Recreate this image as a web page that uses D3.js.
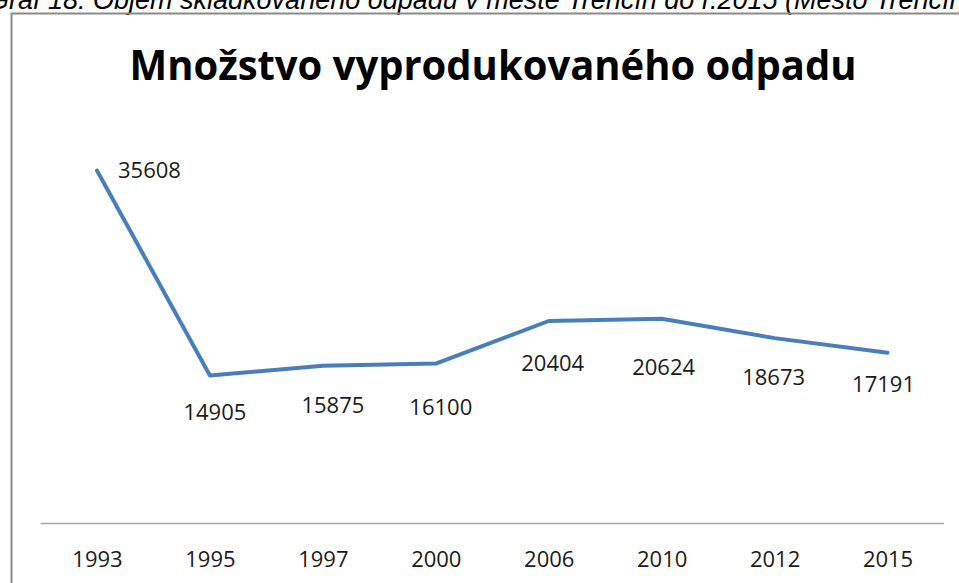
<!DOCTYPE html>
<html>
<head>
<meta charset="utf-8">
<script src="https://cdn.jsdelivr.net/npm/d3@7"></script>
<style>
  html, body { margin: 0; padding: 0; background: #fff; }
  svg { display: block; }
</style>
</head>
<body>
<svg width="959" height="583"></svg>
<script>
var years = ["1993", "1995", "1997", "2000", "2006", "2010", "2012", "2015"];
var values = [35608, 14905, 15875, 16100, 20404, 20624, 18673, 17191];
var title = "Množstvo vyprodukovaného odpadu";
var caption = "Graf 18: Objem skládkovaného odpadu v meste Trenčín do r.2015 (Mesto Trenčín)";

// nudges of the data labels, as placed in the original chart
var labelDx = [21, 5, 10, 5, 4, 2, -1, -4];
var labelDy = [8, 45, 47, 51, 50, 56, 47, 39];

var svg = d3.select("svg");

// caption of the document, cut by the top of the page
svg.append("text")
    .attr("x", -12)
    .attr("y", 9)
    .style("font-family", "Liberation Sans, Arial, sans-serif")
    .style("font-style", "italic")
    .style("font-size", "27px")
    .style("fill", "#000")
    .text(caption);

// chart frame (only top and left edges are visible)
svg.append("path")
    .attr("d", "M11.5,583 L11.5,13.5 L959,13.5")
    .attr("fill", "none")
    .attr("stroke", "#8a8a8a")
    .attr("stroke-width", 2);

var x = d3.scalePoint()
    .domain(years)
    .range([40.5, 944])
    .padding(0.5);

var y = d3.scaleLinear()
    .domain([0, 40000])
    .range([523, 127]);

// title
svg.append("text")
    .attr("x", 493)
    .attr("y", 80)
    .attr("text-anchor", "middle")
    .attr("textLength", 727)
    .attr("lengthAdjust", "spacingAndGlyphs")
    .style("font-family", "Open Sans, sans-serif")
    .style("font-weight", "bold")
    .style("font-size", "41px")
    .style("fill", "#000")
    .text(title);

// category axis
var axis = svg.append("g")
    .attr("transform", "translate(0," + y(0) + ")")
    .call(d3.axisBottom(x).tickSize(0).tickPadding(30));
axis.select(".domain")
    .attr("d", "M40.5,0.5H944")
    .attr("stroke", "#a6a6a6")
    .attr("stroke-width", 1.5);
axis.selectAll(".tick text")
    .attr("dy", 0)
    .attr("y", 44)
    .style("font-family", "Open Sans, sans-serif")
    .style("font-size", "22px")
    .style("fill", "#1a1a1a");

// line
var line = d3.line()
    .x(function (d, i) { return x(years[i]); })
    .y(function (d) { return y(d); });

svg.append("path")
    .datum(values)
    .attr("d", line)
    .attr("fill", "none")
    .attr("stroke", "#4a7ebb")
    .attr("stroke-width", 4)
    .attr("stroke-linejoin", "round")
    .attr("stroke-linecap", "round");

// data labels
svg.selectAll("text.lbl")
    .data(values)
    .enter().append("text")
    .attr("class", "lbl")
    .attr("x", function (d, i) { return x(years[i]) + labelDx[i]; })
    .attr("y", function (d, i) { return y(d) + labelDy[i]; })
    .attr("text-anchor", function (d, i) { return i === 0 ? "start" : "middle"; })
    .style("font-family", "Open Sans, sans-serif")
    .style("font-size", "22px")
    .style("fill", "#1a1a1a")
    .text(function (d) { return d; });
</script>
</body>
</html>
